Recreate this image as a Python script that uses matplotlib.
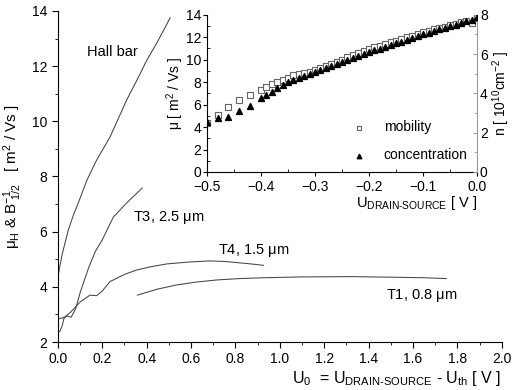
import matplotlib
matplotlib.use("Agg")
import matplotlib.pyplot as plt
from matplotlib.ticker import MultipleLocator

plt.rcParams['font.family'] = ['Liberation Sans', 'DejaVu Sans']
plt.rcParams['mathtext.default'] = 'regular'
plt.rcParams['mathtext.fontset'] = 'custom'
plt.rcParams['mathtext.rm'] = 'Liberation Sans'

# Main curves
hall_x = [0.0, 0.02, 0.047, 0.07, 0.092, 0.13, 0.175, 0.235, 0.31, 0.36, 0.40, 0.45, 0.506]
hall_y = [4.36, 5.2, 6.06, 6.6, 7.04, 7.85, 8.6, 9.43, 10.77, 11.55, 12.2, 12.9, 13.75]

t3_x = [0.0, 0.01, 0.02, 0.027, 0.04, 0.06, 0.08, 0.1, 0.12, 0.14, 0.17, 0.2, 0.25, 0.31, 0.35, 0.38]
t3_y = [2.35, 2.4, 2.6, 2.85, 2.95, 2.9, 3.2, 3.78, 4.25, 4.72, 5.3, 5.7, 6.53, 7.04, 7.35, 7.58]

t4_x = [0.0, 0.03, 0.06, 0.1, 0.145, 0.175, 0.2, 0.235, 0.3, 0.355, 0.42, 0.49, 0.59, 0.686, 0.75, 0.807, 0.87, 0.927]
t4_y = [2.83, 2.9, 3.1, 3.45, 3.7, 3.68, 3.85, 4.19, 4.45, 4.61, 4.73, 4.83, 4.9, 4.94, 4.92, 4.88, 4.83, 4.78]

t1_x = [0.358, 0.45, 0.536, 0.62, 0.716, 0.82, 0.927, 1.1, 1.32, 1.5, 1.65, 1.75]
t1_y = [3.70, 3.92, 4.07, 4.17, 4.25, 4.3, 4.33, 4.36, 4.37, 4.35, 4.33, 4.30]

labels = ["Hall bar", "T3, 2.5 $\\mu$m", "T4, 1.5 $\\mu$m", "T1, 0.8 $\\mu$m"]
label_pos = [(0.13, 12.5), (0.34, 6.5), (0.72, 5.3), (1.48, 3.7)]

# Inset data
u_ds = [-0.50, -0.48, -0.46, -0.44, -0.42, -0.40, -0.39, -0.38, -0.37, -0.36, -0.35,
        -0.34, -0.33, -0.32, -0.31, -0.30, -0.29, -0.28, -0.27, -0.26, -0.25, -0.24,
        -0.23, -0.22, -0.21, -0.20, -0.19, -0.18, -0.17, -0.16, -0.15, -0.14, -0.13,
        -0.12, -0.11, -0.10, -0.09, -0.08, -0.07, -0.06, -0.05, -0.04, -0.03, -0.02,
        -0.01, 0.00]
mobility = [4.4, 5.1, 5.8, 6.4, 6.9, 7.3, 7.55, 7.8, 8.0, 8.2, 8.4,
            8.6, 8.75, 8.85, 8.95, 9.05, 9.25, 9.45, 9.6, 9.8, 10.0, 10.2,
            10.4, 10.6, 10.8, 10.95, 11.1, 11.25, 11.4, 11.55, 11.7, 11.85, 12.0,
            12.15, 12.3, 12.45, 12.6, 12.7, 12.85, 12.95, 13.1, 13.2, 13.35, 13.45,
            13.3, 13.75]
concentration = [2.56, 2.75, 2.82, 3.09, 3.38, 3.76, 3.91, 4.09, 4.28, 4.43, 4.57,
                 4.68, 4.8, 4.9, 5.0, 5.1, 5.2, 5.3, 5.4, 5.5, 5.6, 5.7,
                 5.8, 5.9, 6.0, 6.1, 6.2, 6.28, 6.37, 6.46, 6.55, 6.64, 6.73,
                 6.82, 6.92, 7.03, 7.1, 7.18, 7.26, 7.34, 7.42, 7.5, 7.58, 7.66,
                 7.74, 7.88]

fig = plt.figure(figsize=(5.12, 3.9), dpi=100)
ax = fig.add_axes([0.113, 0.123, 0.867, 0.849])
lc = '#444444'
for xs, ys in [(hall_x, hall_y), (t3_x, t3_y), (t4_x, t4_y), (t1_x, t1_y)]:
    ax.plot(xs, ys, color=lc, lw=0.75)
for lab, (lx, ly) in zip(labels, label_pos):
    ax.text(lx, ly, lab, fontsize=10.5, va='center', ha='left')

ax.set_xlim(0, 2.0)
ax.set_ylim(2, 14)
ax.xaxis.set_major_locator(MultipleLocator(0.2))
ax.xaxis.set_minor_locator(MultipleLocator(0.1))
ax.yaxis.set_major_locator(MultipleLocator(2))
ax.yaxis.set_minor_locator(MultipleLocator(1))
ax.xaxis.set_major_formatter(matplotlib.ticker.FormatStrFormatter('%.1f'))
for s in ['top', 'right']:
    ax.spines[s].set_visible(False)
ax.tick_params(which='major', direction='out', length=4, labelsize=10)
ax.tick_params(which='minor', direction='out', length=2.5)
ax.set_ylabel(r'$\mu_H$ & B$^{-1}_{\ 1/2}$   [ m$^2$ / Vs ]', fontsize=11, labelpad=6)
ax.set_xlabel(r'U$_0$  = U$_{DRAIN\text{-}SOURCE}$ - U$_{th}$ [ V ]', fontsize=11.5, loc='right', labelpad=2)

# Inset
axi = fig.add_axes([0.404, 0.559, 0.528, 0.403])
axi.scatter(u_ds, mobility, marker='s', s=22, facecolors='white', edgecolors='#666666', linewidths=0.8, label='mobility', zorder=2)
axi.set_xlim(-0.5, 0.0)
axi.set_ylim(0, 14)
axn = axi.twinx()
axn.scatter(u_ds, concentration, marker='^', s=18, color='black', label='concentration', zorder=3)
axn.set_ylim(0, 8)
axi.xaxis.set_major_locator(MultipleLocator(0.1))
axi.xaxis.set_minor_locator(MultipleLocator(0.05))
axi.yaxis.set_major_locator(MultipleLocator(2))
axi.yaxis.set_minor_locator(MultipleLocator(1))
axn.yaxis.set_major_locator(MultipleLocator(2))
axn.yaxis.set_minor_locator(MultipleLocator(1))
for a in (axi, axn):
    a.spines['top'].set_visible(False)
    a.patch.set_visible(False)
axn.spines['right'].set_color('#999999')
axi.spines['right'].set_visible(False)
axn.spines['left'].set_visible(False)
axn.spines['bottom'].set_visible(False)
axi.tick_params(which='major', direction='out', length=3, labelsize=10, pad=1)
axi.tick_params(axis='x', which='major', pad=3)
axi.tick_params(which='minor', direction='in', length=2)
axn.tick_params(which='major', direction='in', length=3, labelsize=10, pad=2, color='#999999')
axn.tick_params(which='minor', direction='in', length=2, color='#999999')
axi.set_ylabel(r'$\mu$ [ m$^2$ / Vs ]', fontsize=10, labelpad=0)
axn.set_ylabel(r'n [ 10$^{10}$cm$^{-2}$ ]', fontsize=10, labelpad=2)
axi.set_xlabel(r'U$_{DRAIN\text{-}SOURCE}$ [ V ]', fontsize=10.5, loc='right', labelpad=0)

h1, l1 = axi.get_legend_handles_labels()
h2, l2 = axn.get_legend_handles_labels()
axn.legend(h1 + h2, l1 + l2, loc='lower right', frameon=False, fontsize=10,
           handletextpad=0.8, labelspacing=1.0, borderaxespad=0.3, markerscale=0.75)

fig.savefig('out.png', dpi=100)
